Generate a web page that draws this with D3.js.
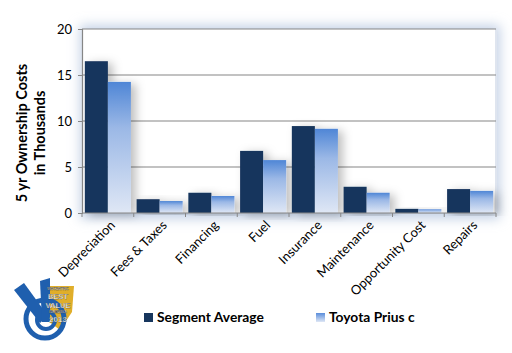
<!DOCTYPE html>
<html>
<head>
<meta charset="utf-8">
<script src="https://cdn.jsdelivr.net/npm/d3@7"></script>
<style>
  body { margin: 0; background: #fff; }
  svg { display: block; font-family: Lato, "Liberation Sans", sans-serif; }
</style>
</head>
<body>
<script>
// 5 yr ownership costs, grouped bars
const categories = ['Depreciation', 'Fees & Taxes', 'Financing', 'Fuel', 'Insurance', 'Maintenance', 'Opportunity Cost', 'Repairs']
const segmentAverage = [16.5, 1.5, 2.2, 6.75, 9.45, 2.85, 0.45, 2.6]
const priusC = [14.25, 1.3, 1.85, 5.75, 9.15, 2.2, 0.4, 2.4]
const seriesNames = ['Segment Average', 'Toyota Prius c']
const yTicks = [0, 5, 10, 15, 20]

const width = 512
const height = 353
const margin = {top: 29, right: 16, bottom: 140, left: 82}
const plotW = width - margin.left - margin.right
const plotH = height - margin.top - margin.bottom

const svg = d3.select('body').append('svg')
  .attr('width', width)
  .attr('height', height)

const defs = svg.append('defs')
const grad = defs.append('linearGradient')
  .attr('id', 'lightGrad').attr('x1', 0).attr('y1', 0).attr('x2', 0).attr('y2', 1)
grad.append('stop').attr('offset', '0%').attr('stop-color', '#4f86d6')
grad.append('stop').attr('offset', '35%').attr('stop-color', '#9bb8e6')
grad.append('stop').attr('offset', '100%').attr('stop-color', '#dfe7f5')

const legGrad = defs.append('linearGradient')
  .attr('id', 'legGrad').attr('x1', 0).attr('y1', 0).attr('x2', 0).attr('y2', 1)
legGrad.append('stop').attr('offset', '0%').attr('stop-color', '#5a8ddb')
legGrad.append('stop').attr('offset', '100%').attr('stop-color', '#dfe7f5')

const blur = defs.append('filter').attr('id', 'areaBlur')
  .attr('x', '-20%').attr('y', '-20%').attr('width', '140%').attr('height', '140%')
blur.append('feGaussianBlur').attr('stdDeviation', 6)

const barShadow = defs.append('filter').attr('id', 'barShadow')
  .attr('x', '-30%').attr('y', '-30%').attr('width', '180%').attr('height', '140%')
barShadow.append('feDropShadow')
  .attr('dx', 5).attr('dy', 2).attr('stdDeviation', 5)
  .attr('flood-color', '#000').attr('flood-opacity', 0.25)

// plot area shadow
svg.append('rect')
  .attr('x', margin.left - 2).attr('y', margin.top - 4)
  .attr('width', plotW + 6).attr('height', plotH + 10)
  .attr('fill', '#c5d2e6')
  .attr('filter', 'url(#areaBlur)')
svg.append('rect')
  .attr('x', margin.left).attr('y', margin.top)
  .attr('width', plotW).attr('height', plotH)
  .attr('fill', '#fff')
svg.append('line')
  .attr('x1', margin.left + plotW).attr('x2', margin.left + plotW)
  .attr('y1', margin.top).attr('y2', margin.top + plotH)
  .attr('stroke', '#dfe5ef').attr('stroke-width', 2)

const g = svg.append('g').attr('transform', `translate(${margin.left},${margin.top})`)

const x0 = d3.scaleBand().domain(categories).range([0, plotW]).paddingInner(0.11).paddingOuter(0.055)
const xBand = d3.scaleBand().domain(categories).range([0, plotW])
const x1 = d3.scaleBand().domain(seriesNames).range([0, x0.bandwidth()])
const y = d3.scaleLinear().domain([0, 20]).range([plotH, 0])

// gridlines
g.selectAll('.grid').data(yTicks.slice(1)).enter().append('line')
  .attr('class', 'grid')
  .attr('x1', 0).attr('x2', plotW)
  .attr('y1', d => y(d)).attr('y2', d => y(d))
  .attr('stroke', '#868686').attr('stroke-width', 1.2)

const rows = categories.map((c, i) => ({cat: c, vals: [segmentAverage[i], priusC[i]]}))
const colors = ['#17365d', 'url(#lightGrad)']

const groups = g.selectAll('.grp').data(rows).enter().append('g')
  .attr('class', 'grp')
  .attr('transform', d => `translate(${x0(d.cat)},0)`)
  .attr('filter', 'url(#barShadow)')
groups.selectAll('rect')
  .data(d => d.vals.map((v, k) => ({key: seriesNames[k], v: v, k: k})))
  .enter().append('rect')
  .attr('x', d => x1(d.key))
  .attr('y', d => y(d.v))
  .attr('width', x1.bandwidth())
  .attr('height', d => plotH - y(d.v))
  .attr('fill', d => colors[d.k])

// y axis
const yAxis = g.append('g')
  .call(d3.axisLeft(y).tickValues(yTicks).tickSize(4).tickPadding(6))
yAxis.select('.domain').attr('stroke', '#868686').attr('stroke-width', 1.2)
yAxis.selectAll('.tick line').attr('stroke', '#868686')
yAxis.selectAll('text').attr('font-size', 13).attr('fill', '#000')
  .attr('font-family', 'Lato, sans-serif')

// x axis: ticks at band boundaries
const xAxisG = g.append('g').attr('transform', `translate(0,${plotH})`)
xAxisG.append('line').attr('x1', 0).attr('x2', plotW)
  .attr('stroke', '#868686').attr('stroke-width', 1.2)
xAxisG.selectAll('.xt').data(d3.range(categories.length + 1)).enter().append('line')
  .attr('x1', i => i * xBand.step()).attr('x2', i => i * xBand.step())
  .attr('y1', 0).attr('y2', 4)
  .attr('stroke', '#868686')
xAxisG.selectAll('.xl').data(categories).enter().append('text')
  .attr('transform', d => `translate(${xBand(d) + xBand.bandwidth() / 2 + 8},${13}) rotate(-45)`)
  .attr('text-anchor', 'end')
  .attr('font-size', 13)
  .attr('fill', '#000')
  .text(d => d)

// y title
const yt = svg.append('text')
  .attr('transform', 'translate(27,133) rotate(-90)')
  .attr('text-anchor', 'middle')
  .attr('font-size', 14.5).attr('font-weight', 'bold')
yt.append('tspan').attr('x', 0).attr('dy', 0).text('5 yr Ownership Costs')
yt.append('tspan').attr('x', 0).attr('dy', 18).text('in Thousands')

// legend
const legend = svg.append('g')
const legX = [144, 316]
seriesNames.forEach((name, k) => {
  legend.append('rect')
    .attr('x', legX[k]).attr('y', 313)
    .attr('width', 9).attr('height', 9)
    .attr('fill', k === 0 ? '#17365d' : 'url(#legGrad)')
  legend.append('text')
    .attr('x', legX[k] + 13).attr('y', 322)
    .attr('font-size', 13.8).attr('font-weight', 'bold')
    .attr('fill', '#000')
    .text(name)
})

// badge
const badge = svg.append('g')
badge.append('path')
  .attr('d', 'M42,286 L74,286 L72,312 L60,330 L44,318 Z')
  .attr('fill', '#e0ae2a')
badge.append('circle').attr('cx', 45).attr('cy', 319).attr('r', 19)
  .attr('fill', 'none').attr('stroke', '#1f5fae').attr('stroke-width', 5)
badge.append('circle').attr('cx', 46).attr('cy', 320).attr('r', 9)
  .attr('fill', 'none').attr('stroke', '#1f5fae').attr('stroke-width', 4)
badge.append('path')
  .attr('d', 'M14,290 L24,283 L48,316 L40,323 Z')
  .attr('fill', '#1f5fae')
badge.append('path')
  .attr('d', 'M40,281 L50,278 L50,322 L42,322 Z')
  .attr('fill', '#1f5fae')
// badge lines: [text, baseline y, font size]
const badgeLines = [['VINCENTRIC', 290, 3.5], ['BEST', 299, 7.5], ['VALUE', 308, 7.5], ['IN AMERICA', 312.5, 3], ['2013', 321.5, 8]]
badge.selectAll('.bl').data(badgeLines).enter().append('text')
  .attr('x', 58).attr('y', d => d[1])
  .attr('font-size', d => d[2])
  .attr('text-anchor', 'middle').attr('fill', '#fff')
  .attr('font-weight', 'bold').attr('font-family', 'Liberation Sans, sans-serif')
  .attr('stroke', '#3a3a3a').attr('stroke-width', 0.25)
  .text(d => d[0])
</script>
</body>
</html>
